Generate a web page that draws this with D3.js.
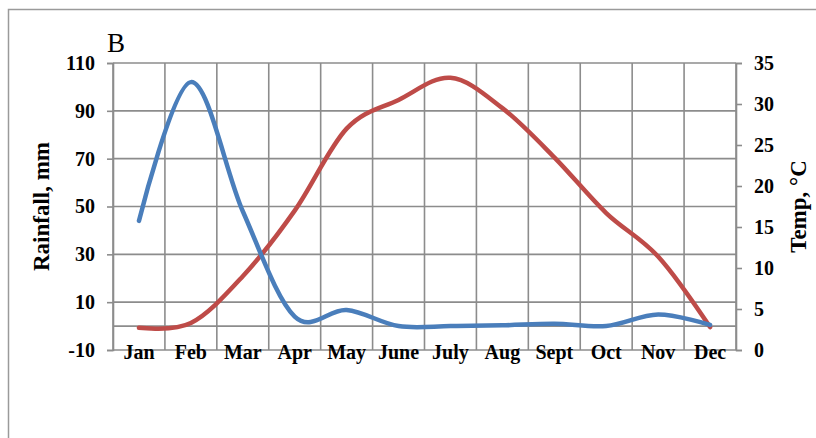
<!DOCTYPE html>
<html>
<head>
<meta charset="utf-8">
<script src="https://cdn.jsdelivr.net/npm/d3@7"></script>
<style>
  html, body { margin: 0; padding: 0; background: #fff; }
  svg { display: block; }
  text { font-family: "Liberation Serif", "Times New Roman", serif; fill: #000; }
</style>
</head>
<body>
<svg id="chart" width="816" height="438"></svg>
<script>
// Monthly climate data: rainfall (mm, left axis) and temperature (°C, right axis)
const months = ["Jan", "Feb", "Mar", "Apr", "May", "June", "July", "Aug", "Sept", "Oct", "Nov", "Dec"];
const rainfall = [44, 102, 48, 4, 6.7, 0, 0, 0.3, 1, 0, 4.8, 0.5];
const temperature = [2.7, 3.3, 9, 17, 27, 30.5, 33.2, 29.5, 23.5, 16.7, 11.4, 2.8];
const rainTicks = [-10, 10, 30, 50, 70, 90, 110];
const tempTicks = [0, 5, 10, 15, 20, 25, 30, 35];

const svg = d3.select("#chart");
const plot = { left: 113, right: 736, top: 63, bottom: 350 };
const gridColor = "#8c8c8c";

// Outer frame (only top and left edges fall inside the view)
svg.append("rect")
  .attr("x", 8.5).attr("y", 9.5)
  .attr("width", 900).attr("height", 500)
  .attr("fill", "none").attr("stroke", "#9a9a9a").attr("stroke-width", 1.5);

const x = d3.scaleBand().domain(months).range([plot.left, plot.right]).padding(0);
const yRain = d3.scaleLinear().domain([-10, 110]).range([plot.bottom, plot.top]);
const yTemp = d3.scaleLinear().domain([0, 35]).range([plot.bottom, plot.top]);

// Horizontal gridlines and the zero-rainfall baseline
const gridY = rainTicks.concat([0]);
svg.append("g").selectAll("line").data(gridY).join("line")
  .attr("x1", plot.left).attr("x2", plot.right)
  .attr("y1", d => yRain(d)).attr("y2", d => yRain(d))
  .attr("stroke", gridColor).attr("stroke-width", 1.6);

// Vertical gridlines at category boundaries
const bounds = months.map(m => x(m)).concat([x.range()[1]]);
svg.append("g").selectAll("line").data(bounds).join("line")
  .attr("x1", d => d).attr("x2", d => d)
  .attr("y1", plot.top).attr("y2", plot.bottom)
  .attr("stroke", gridColor).attr("stroke-width", 1.6);

// Plain hyphen for negative numbers
const plainFormat = d => String(d);

// Left axis (rainfall)
const leftAxis = svg.append("g")
  .attr("transform", `translate(${plot.left},0)`)
  .call(d3.axisLeft(yRain).tickValues(rainTicks).tickSize(6).tickPadding(12).tickFormat(plainFormat));
leftAxis.select(".domain").attr("stroke", gridColor).attr("stroke-width", 1.6);
leftAxis.selectAll(".tick line").attr("stroke", gridColor).attr("stroke-width", 1.6);
leftAxis.selectAll(".tick text")
  .attr("font-family", "Liberation Serif").attr("font-weight", "bold")
  .attr("font-size", 20).attr("fill", "#000");

// Right axis (temperature)
const rightAxis = svg.append("g")
  .attr("transform", `translate(${plot.right},0)`)
  .call(d3.axisRight(yTemp).tickValues(tempTicks).tickSize(6).tickPadding(12).tickFormat(plainFormat));
rightAxis.select(".domain").attr("stroke", gridColor).attr("stroke-width", 1.6);
rightAxis.selectAll(".tick line").attr("stroke", gridColor).attr("stroke-width", 1.6);
rightAxis.selectAll(".tick text")
  .attr("font-family", "Liberation Serif").attr("font-weight", "bold")
  .attr("font-size", 20).attr("fill", "#000");

// Month labels along the bottom
svg.append("g").selectAll("text").data(months).join("text")
  .attr("x", d => x(d) + x.bandwidth() / 2)
  .attr("y", 359)
  .attr("text-anchor", "middle")
  .attr("font-weight", "bold").attr("font-size", 20)
  .text(d => d);

// Smoothed series lines
const cx = (d, i) => x(months[i]) + x.bandwidth() / 2;
const rainLine = d3.line().x(cx).y(d => yRain(d)).curve(d3.curveCardinal.tension(0));
const tempLine = d3.line().x(cx).y(d => yTemp(d)).curve(d3.curveCardinal.tension(0));

svg.append("path").datum(temperature)
  .attr("d", tempLine)
  .attr("fill", "none").attr("stroke", "#BE4B48")
  .attr("stroke-width", 4.5).attr("stroke-linecap", "round").attr("stroke-linejoin", "round");

svg.append("path").datum(rainfall)
  .attr("d", rainLine)
  .attr("fill", "none").attr("stroke", "#4A7EBB")
  .attr("stroke-width", 4.5).attr("stroke-linecap", "round").attr("stroke-linejoin", "round");

// Panel letter
svg.append("text").attr("x", 107).attr("y", 52)
  .attr("font-size", 27).text("B");

// Axis titles
svg.append("text")
  .attr("transform", `translate(49,${(plot.top + plot.bottom) / 2}) rotate(-90)`)
  .attr("text-anchor", "middle")
  .attr("font-weight", "bold").attr("font-size", 23)
  .text("Rainfall, mm");

svg.append("text")
  .attr("transform", `translate(806,${(plot.top + plot.bottom) / 2}) rotate(-90)`)
  .attr("text-anchor", "middle")
  .attr("font-weight", "bold").attr("font-size", 23)
  .text("Temp, °C");
</script>
</body>
</html>
